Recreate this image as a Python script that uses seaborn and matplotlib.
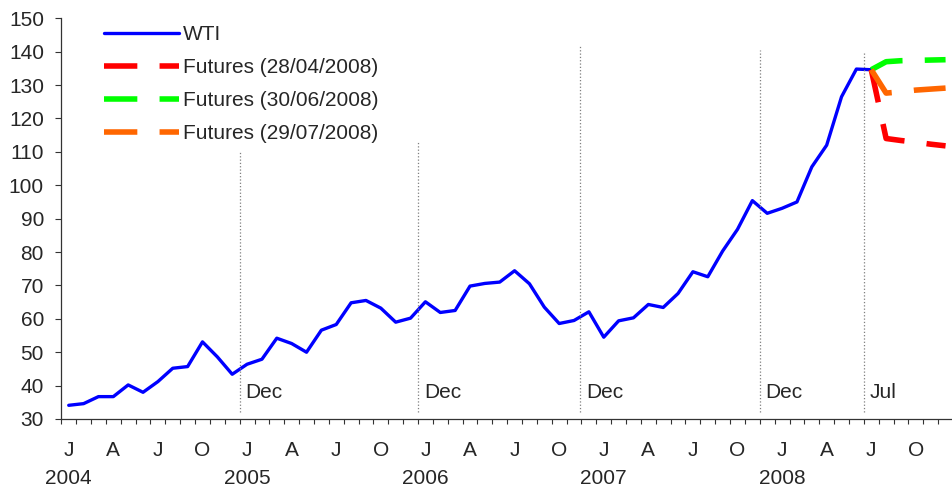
import numpy as np
import pandas as pd
import matplotlib
matplotlib.use("Agg")
import matplotlib.pyplot as plt
import matplotlib.transforms as mtransforms
import seaborn as sns

# monthly WTI (USD/bbl), Jan 2004 .. Jul 2008 -> month index 0..54
wti = [34.1, 34.6, 36.7, 36.7, 40.2, 38.0, 41.2, 45.2, 45.7, 53.1, 48.6, 43.4,
       46.4, 47.9, 54.2, 52.6, 50.0, 56.6, 58.3, 64.8, 65.5, 63.2, 59.0, 60.2,
       65.1, 61.9, 62.5, 69.8, 70.6, 71.0, 74.4, 70.5, 63.5, 58.6, 59.5, 62.1,
       54.5, 59.4, 60.3, 64.3, 63.4, 67.6, 74.1, 72.6, 80.3, 86.8, 95.4, 91.6,
       93.1, 95.0, 105.5, 112.0, 126.5, 134.8, 134.6]
wti_months = list(range(len(wti)))

# futures curves, Jul 2008 .. Dec 2008 -> month index 54..59
fut_months = [54, 55, 56, 57, 58, 59]
fut_apr = [134.6, 114.0, 113.4, 112.9, 112.3, 111.8]
fut_jun = [134.6, 137.0, 137.3, 137.4, 137.5, 137.6]
fut_jul = [134.6, 127.6, 128.0, 128.5, 128.8, 129.1]
fut_labels = ["Futures (28/04/2008)", "Futures (30/06/2008)", "Futures (29/07/2008)"]
fut_colors = ["#FF0000", "#00FF00", "#FF6600"]

# axis labels
month_letters = ["J", "A", "J", "O"]
years = ["2004", "2005", "2006", "2007", "2008"]

# dotted markers
event_x = [11.5, 23.5, 34.4, 46.5, 53.5]
event_top = [110, 113.2, 142, 140.5, 140.2]
event_labels = ["Dec", "Dec", "Dec", "Dec", "Jul"]

sns.set_style("white")
plt.rcParams["font.family"] = ["Liberation Sans", "DejaVu Sans"]
fs = 15

fig = plt.figure(figsize=(9.53, 4.87), dpi=100)
ax = fig.add_axes([61.3 / 953, 68 / 487, 891.7 / 953, 400.7 / 487])

sns.lineplot(x=wti_months, y=wti, color="#0000FF", lw=2.4, label="WTI", ax=ax)
ax.lines[-1].set_solid_joinstyle("round")
for vals, lab, col in zip([fut_apr, fut_jun, fut_jul], fut_labels, fut_colors):
    sns.lineplot(x=fut_months, y=vals, color=col, lw=4, label=lab, ax=ax)
    ax.lines[-1].set_dashes((6.0, 4.0))

ax.vlines(event_x, 32, event_top, colors="#7f7f7f", linestyles=":", lw=0.9)
for x, lab in zip(event_x, event_labels):
    ax.text(x + 0.4, 37.8, lab, fontsize=fs, va="center", ha="left")

ax.set_xlim(-0.5, 58.95)
ax.set_ylim(30, 150)
ax.set_yticks(range(30, 151, 10))
ax.set_xticks(np.arange(-0.5, 60, 1))
ax.set_xticklabels([])
ax.tick_params(axis="y", length=4.5, width=0.8, pad=8.0, labelsize=fs, color="#333333", direction="out", left=True)
ax.tick_params(axis="x", length=3.6, width=0.8, color="#333333", direction="out", bottom=True)
for s in ["top", "right"]:
    ax.spines[s].set_visible(False)
for s in ["left", "bottom"]:
    ax.spines[s].set_color("#333333")
    ax.spines[s].set_linewidth(0.9)
ax.set_xlabel("")
ax.set_ylabel("")

trans = mtransforms.blended_transform_factory(ax.transData, ax.transAxes)
for yi, yr in enumerate(years):
    for qi, m in enumerate(month_letters):
        ax.text(yi * 12 + qi * 3, -31 / 400.7, m, transform=trans, fontsize=fs,
                ha="center", va="center")
    ax.text(yi * 12, -59 / 400.7, yr, transform=trans, fontsize=fs,
            ha="center", va="center")

ax.legend(loc="upper left", bbox_to_anchor=(104 / 953, 1 - 25 / 487),
          bbox_transform=fig.transFigure, frameon=False, fontsize=fs,
          handlelength=3.6, handletextpad=0.2, labelspacing=0.67,
          borderpad=0, borderaxespad=0)

fig.savefig("out.png", dpi=100)
